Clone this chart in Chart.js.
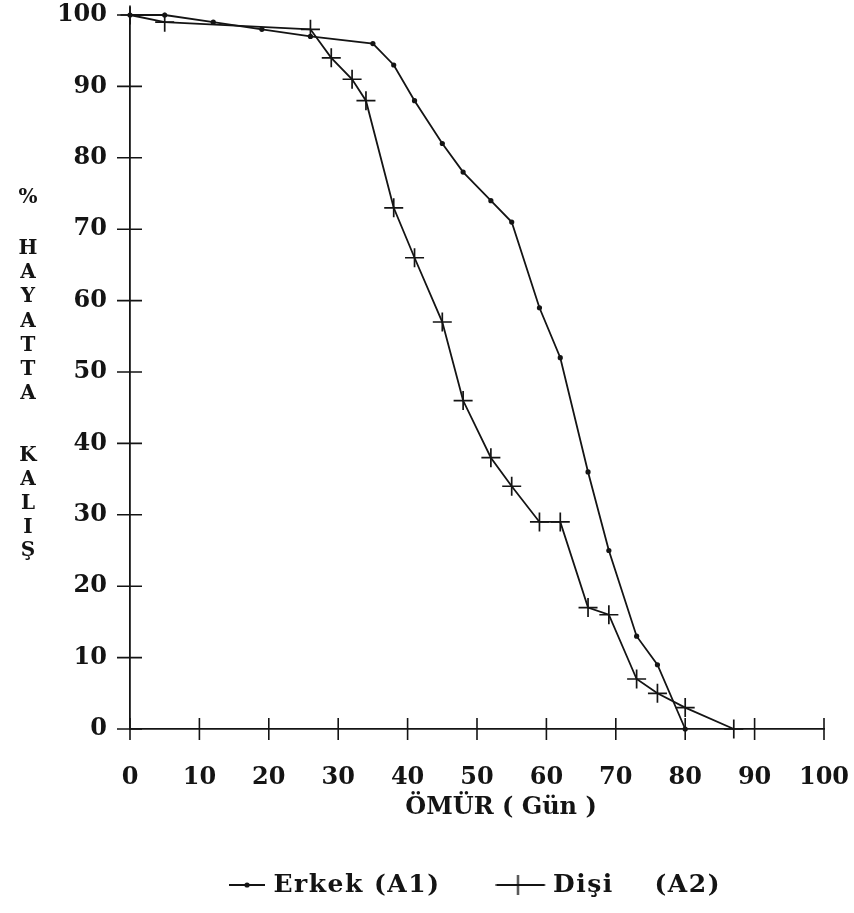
<!DOCTYPE html>
<html>
<head>
<meta charset="utf-8">
<script src="https://cdn.jsdelivr.net/npm/chart.js@4.4.1/dist/chart.umd.min.js"></script>
<style>
  html, body { margin: 0; padding: 0; background: #ffffff; }
  canvas { display: block; }
</style>
</head>
<body>
<canvas id="chart" width="854" height="913"></canvas>
<script>
// ---- data ----
const xTickValues = [0, 10, 20, 30, 40, 50, 60, 70, 80, 90, 100];
const yTickValues = [0, 10, 20, 30, 40, 50, 60, 70, 80, 90, 100];

const erkekDays     = [0, 5, 12, 19, 26, 35, 38, 41, 45, 48, 52, 55, 59, 62, 66, 69, 73, 76, 80];
const erkekSurvival = [100, 100, 99, 98, 97, 96, 93, 88, 82, 78, 74, 71, 59, 52, 36, 25, 13, 9, 0];

const disiDays      = [0, 5, 26, 29, 32, 34, 38, 41, 45, 48, 52, 55, 59, 62, 66, 69, 73, 76, 80, 87];
const disiSurvival  = [100, 99, 98, 94, 91, 88, 73, 66, 57, 46, 38, 34, 29, 29, 17, 16, 7, 5, 3, 0];

const seriesLabels = ['Erkek (A1)', 'Dişi    (A2)'];
const xAxisTitle = 'ÖMÜR ( Gün )';
const yAxisTitleSymbol = '%';
const yAxisTitleWords = ['HAYATTA', 'KALIŞ'];

// ---- styling ----
const INK = '#141414';
const FAMILY = '"DejaVu Serif", "Liberation Serif", serif';
const LEGEND_SPACING = '1.5px';

// legend glyphs: a short line with the series marker
function legendMarkDot() {
  const c = document.createElement('canvas');
  c.width = 36; c.height = 12;
  const g = c.getContext('2d');
  g.strokeStyle = INK; g.fillStyle = INK; g.lineWidth = 1.8;
  g.beginPath(); g.moveTo(0, 6); g.lineTo(36, 6); g.stroke();
  g.beginPath(); g.arc(18, 6, 2.6, 0, Math.PI * 2); g.fill();
  return c;
}
function legendMarkCross() {
  const c = document.createElement('canvas');
  c.width = 62; c.height = 22;
  const g = c.getContext('2d');
  g.strokeStyle = INK; g.lineWidth = 1.8;
  g.beginPath(); g.moveTo(0.5, 11); g.lineTo(49.5, 11); g.stroke();
  g.beginPath(); g.moveTo(22.5, 1); g.lineTo(22.5, 21); g.stroke();
  return c;
}
const legendMarks = [legendMarkDot(), legendMarkCross()];

// wider letter spacing for the legend text, like the typewritten original
const spacedLegendPlugin = {
  id: 'spacedLegend',
  afterInit(chart) {
    const lg = chart.legend;
    if (!lg) return;
    const wrap = fn => function (...args) {
      const ctx = this.ctx;
      ctx.save();
      ctx.letterSpacing = LEGEND_SPACING;
      const r = fn.apply(this, args);
      ctx.restore();
      return r;
    };
    lg.fit = wrap(lg.fit);
    lg.draw = wrap(lg.draw);
  }
};

const yTitlePlugin = {
  id: 'yTitleStacked',
  afterDraw(chart) {
    const ctx = chart.ctx;
    ctx.save();
    ctx.fillStyle = INK;
    ctx.textAlign = 'center';
    ctx.textBaseline = 'middle';
    ctx.font = 'bold 20px ' + FAMILY;
    ctx.fillText(yAxisTitleSymbol, 28, 198);
    const starts = [249, 456];
    const steps = [24.1, 23.8];
    yAxisTitleWords.forEach((word, wi) => {
      Array.from(word).forEach((ch, i) => {
        ctx.fillText(ch, 28, starts[wi] + i * steps[wi]);
      });
    });
    ctx.restore();
  }
};

const crossTicksPlugin = {
  id: 'crossTicks',
  afterDraw(chart) {
    const {ctx, scales: {x, y}, chartArea} = chart;
    ctx.save();
    ctx.strokeStyle = INK;
    ctx.lineWidth = 1.6;
    ctx.beginPath();
    x.ticks.forEach(t => {
      const px = x.getPixelForValue(t.value);
      ctx.moveTo(px, chartArea.bottom - 11);
      ctx.lineTo(px, chartArea.bottom + 11);
    });
    y.ticks.forEach(t => {
      const py = y.getPixelForValue(t.value);
      ctx.moveTo(chartArea.left - 13, py);
      ctx.lineTo(chartArea.left + 12, py);
    });
    ctx.moveTo(chartArea.left, chartArea.top);
    ctx.lineTo(chartArea.left, chartArea.top - 8);
    ctx.stroke();
    ctx.restore();
  }
};

const toPoints = (xs, ys) => xs.map((v, i) => ({x: v, y: ys[i]}));

new Chart(document.getElementById('chart'), {
  type: 'line',
  data: {
    datasets: [
      {
        label: seriesLabels[0],
        data: toPoints(erkekDays, erkekSurvival),
        borderColor: INK,
        backgroundColor: INK,
        borderWidth: 1.8,
        pointStyle: 'circle',
        pointRadius: 2.6,
        pointBorderWidth: 0,
        pointBackgroundColor: INK,
        tension: 0,
        clip: false
      },
      {
        label: seriesLabels[1],
        data: toPoints(disiDays, disiSurvival),
        borderColor: INK,
        backgroundColor: INK,
        borderWidth: 1.8,
        pointStyle: 'cross',
        pointRadius: 9.5,
        pointBorderWidth: 1.7,
        pointBorderColor: INK,
        tension: 0,
        clip: false
      }
    ]
  },
  options: {
    responsive: false,
    animation: false,
    devicePixelRatio: 1,
    layout: { padding: { top: 15, right: 30, bottom: 5.5, left: 0 } },
    plugins: {
      tooltip: { enabled: false },
      legend: {
        position: 'bottom',
        align: 'center',
        fullSize: false,
        labels: {
          usePointStyle: true,
          pointStyleWidth: 28,
          padding: 72,
          color: INK,
          font: { family: FAMILY, size: 25, weight: 'bold' },
          generateLabels(chart) {
            const items = Chart.defaults.plugins.legend.labels.generateLabels(chart);
            items.forEach((it, i) => { it.pointStyle = legendMarks[i]; it.fontColor = INK; });
            return items;
          }
        }
      }
    },
    scales: {
      x: {
        type: 'linear',
        min: 0, max: 100,
        afterBuildTicks(scale) { scale.ticks = xTickValues.map(v => ({value: v})); },
        ticks: { color: INK, padding: 34, maxRotation: 0, autoSkip: false,
                 font: { family: FAMILY, size: 24, weight: 'bold' } },
        grid: { display: false, drawTicks: false },
        border: { display: true, color: INK, width: 1.8 },
        title: { display: true, text: '\u2003\u2003' + xAxisTitle, color: INK,
                 font: { family: FAMILY, size: 24, weight: 'bold', lineHeight: 1 },
                 padding: { top: 0, bottom: -19.5 } },
        afterFit(scale) {
          scale.height = 71.5;
          scale.paddingLeft = 0; scale.paddingRight = 0;
        }
      },
      y: {
        type: 'linear',
        min: 0, max: 100,
        afterBuildTicks(scale) { scale.ticks = yTickValues.map(v => ({value: v})); },
        ticks: { color: INK, padding: 23, autoSkip: false,
                 font: { family: FAMILY, size: 24, weight: 'bold' } },
        grid: { display: false, drawTicks: false },
        border: { display: true, color: INK, width: 1.8 },
        afterFit(scale) {
          scale.width = 130;
          scale.paddingTop = 0; scale.paddingBottom = 0;
        }
      }
    }
  },
  plugins: [spacedLegendPlugin, yTitlePlugin, crossTicksPlugin]
});
</script>
</body>
</html>
